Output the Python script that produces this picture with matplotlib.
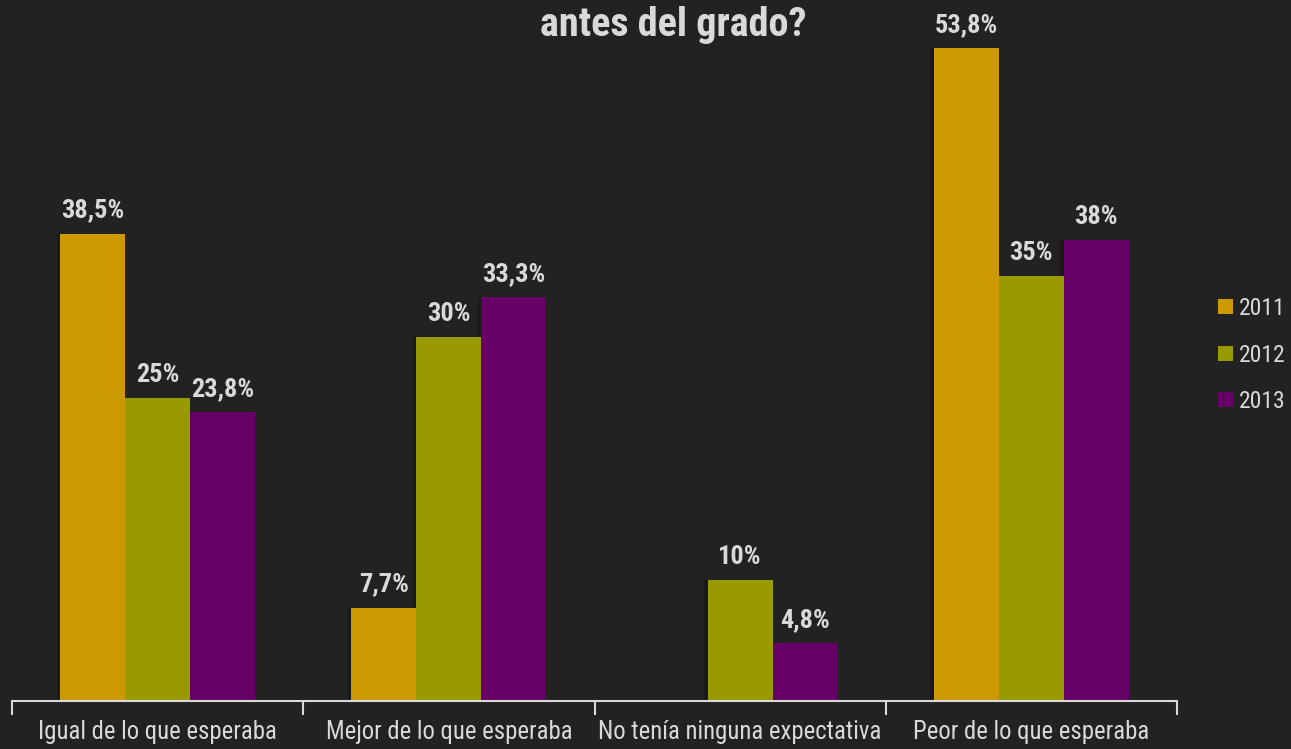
import matplotlib
matplotlib.use("Agg")
import matplotlib.pyplot as plt
import numpy as np
from matplotlib import font_manager

categories = ["Igual de lo que esperaba", "Mejor de lo que esperaba",
              "No tenía ninguna expectativa", "Peor de lo que esperaba"]
years = ["2011", "2012", "2013"]
v2011 = [38.5, 7.7, 0, 53.8]
v2012 = [25, 30, 10, 35]
v2013 = [23.8, 33.3, 4.8, 38]
labels2011 = ["38,5%", "7,7%", "", "53,8%"]
labels2012 = ["25%", "30%", "10%", "35%"]
labels2013 = ["23,8%", "33,3%", "4,8%", "38%"]
title = "antes del grado?"

colors = ["#CC9900", "#999900", "#660066"]
bg = "#222222"
fg = "#D9D9D9"

# look for a condensed / narrow face
cond = [f for f in font_manager.fontManager.ttflist
        if ("Narrow" in f.name or "Condensed" in f.name
            or str(f.stretch) in ("condensed", "semi-condensed", "extra-condensed", "75", "87", "62"))]
stretch = "normal"
fam = ["Liberation Sans", "DejaVu Sans"]
for pref in ["Liberation Sans Narrow", "Arial Narrow", "Roboto Condensed", "Open Sans Condensed"]:
    if any(f.name == pref for f in cond):
        fam = [pref, "DejaVu Sans"]
        break
else:
    for f in cond:
        if f.name in ("Roboto", "Open Sans", "DejaVu Sans", "Noto Sans", "Liberation Sans"):
            fam = [f.name, "DejaVu Sans"]
            stretch = "condensed"
            break
plt.rcParams['font.family'] = fam
plt.rcParams['font.stretch'] = stretch

fig = plt.figure(figsize=(12.91, 7.49), dpi=100, facecolor=bg)
ax = fig.add_axes([12/1291, 48/749, (1177-12)/1291, 701/749])
ax.set_facecolor(bg)

x = np.arange(len(categories))
w = 0.223
series = [v2011, v2012, v2013]
labs = [labels2011, labels2012, labels2013]
for i, (vals, lab, c, yr) in enumerate(zip(series, labs, colors, years)):
    pos = x + (i - 1) * w
    ax.bar(pos - 0.012, vals, w, color="#111111", alpha=0.5, zorder=1)
    ax.bar(pos, vals, w, color=c, label=yr, zorder=2)
    for p, v, t in zip(pos, vals, lab):
        if t:
            ax.text(p, v + 0.9, t, ha="center", va="bottom", color=fg,
                    fontsize=19, fontweight="bold")

ax.set_xlim(-0.5, 3.5)
ax.set_ylim(0, 701/12.14)
for s in ["top", "right", "left"]:
    ax.spines[s].set_visible(False)
ax.spines["bottom"].set_color(fg)
ax.spines["bottom"].set_linewidth(1.5)
ax.set_yticks([])
ax.set_xticks([-0.5, 0.5, 1.5, 2.5, 3.5])
ax.set_xticklabels([])
ax.set_xticks(x, minor=True)
ax.set_xticklabels(categories, minor=True, color=fg, fontsize=17.8)
ax.tick_params(axis="x", which="major", length=10, width=1.5, color=fg, direction="out")
ax.tick_params(axis="x", which="minor", length=0, pad=14)

fig.text(673/1291, 1 - 25/749, title, ha="center", va="center", color=fg,
         fontsize=29, fontweight="bold")

handles, lbls = ax.get_legend_handles_labels()
leg = fig.legend(handles, lbls, loc="center left",
                 bbox_to_anchor=(1218/1291, 1 - 355/749), frameon=False,
                 fontsize=17, handlelength=0.62, handleheight=0.62,
                 handletextpad=0.25, labelspacing=0.99, labelcolor=fg,
                 borderpad=0, borderaxespad=0)
fig.savefig("out.png", dpi=100, facecolor=bg)
